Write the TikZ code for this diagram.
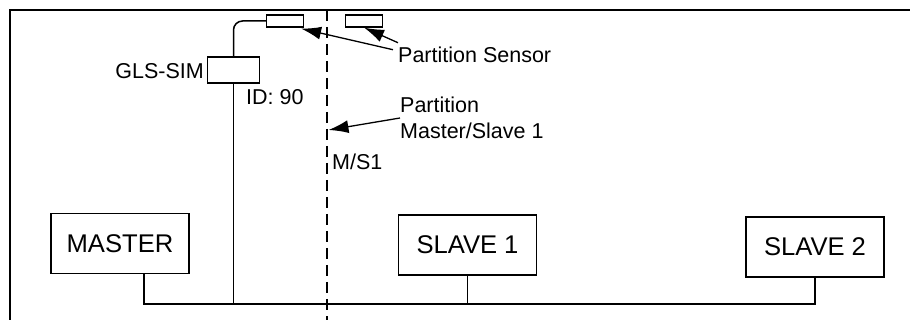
\documentclass[tikz,border=0pt]{standalone}
\usepackage{fontspec}
\setmainfont{Liberation Sans}
\usetikzlibrary{arrows.meta,calc}

\begin{document}
\begin{tikzpicture}[x=1pt,y=-1pt,
    unit/.style={draw, line width=1.3pt, minimum width=138pt, minimum height=60pt, inner sep=0pt, font=\fontsize{25.6}{30}\selectfont},
    sensorbox/.style={draw, line width=1.2pt, minimum width=37pt, minimum height=12pt, inner sep=0pt},
    lbl/.style={inner sep=0pt, font=\fontsize{21.5}{26}\selectfont},
    pointer/.style={line width=1.3pt, -{Latex[length=20pt,width=13pt]}}]
    \useasboundingbox (0,0) rectangle (910,320);

    % Frame
    \draw[line width=1.7pt] (10,320) -- (10,10) -- (910,10);

    % Units on the bus
    \node[unit] (master) at (120,243.5) {MASTER};
    \node[unit] (slave1) at (467.5,245) {SLAVE 1};
    \node[unit] (slave2) at (815,247) {SLAVE 2};

    % Bus
    \coordinate (bus) at (0,304);
    \coordinate (mdrop) at ($(master.south)+(24,0)$);
    \draw[line width=2pt] (mdrop) -- (mdrop |- bus) -- (slave2.south |- bus) -- (slave2.south);
    \draw[line width=1.5pt] (slave1.south) -- (slave1.south |- bus);

    % GLS-SIM and partition sensors
    \node[draw, line width=1.3pt, minimum width=52pt, minimum height=26pt, inner sep=0pt] (sim) at (233.5,70) {};
    \node[sensorbox] (sensorA) at (285,21) {};
    \node[sensorbox] (sensorB) at (364,21) {};
    \draw[line width=1.5pt, rounded corners=9pt] (sim.north) |- (sensorA.west);
    \draw[line width=1.5pt] (sim.south) -- (sim.south |- bus);

    % Partition Master/Slave 1
    \coordinate (ptop) at (327,10);
    \coordinate (pbot) at (327,320);
    \coordinate (pmid) at (328.5,130);
    \draw[line width=2pt, dash pattern=on 11pt off 6pt] (ptop) -- (pbot);

    % Labels
    \node[lbl, anchor=east] (simlabel) at (204,71.5) {GLS-SIM};
    \node[lbl, anchor=base west] (idlabel) at (246,105) {ID: 90};
    \node[lbl, anchor=base west] (senslabel) at (398,62.5) {Partition Sensor};
    \node[lbl, anchor=north west, align=left] (partlabel) at (400,97) {Partition\\Master/Slave 1};
    \node[lbl, anchor=base west] (mslabel) at (332,170) {M/S1};

    % Pointers
    \draw[pointer] ($(senslabel.north west)+(-5,3)$) -- ($(sensorA.south east)+(-3,1)$);
    \draw[pointer] ($(senslabel.north west)+(0,-4)$) -- (sensorB.south);
    \draw[pointer] ($(partlabel.north west)+(0,21)$) -- (pmid);

\end{tikzpicture}
\end{document}
